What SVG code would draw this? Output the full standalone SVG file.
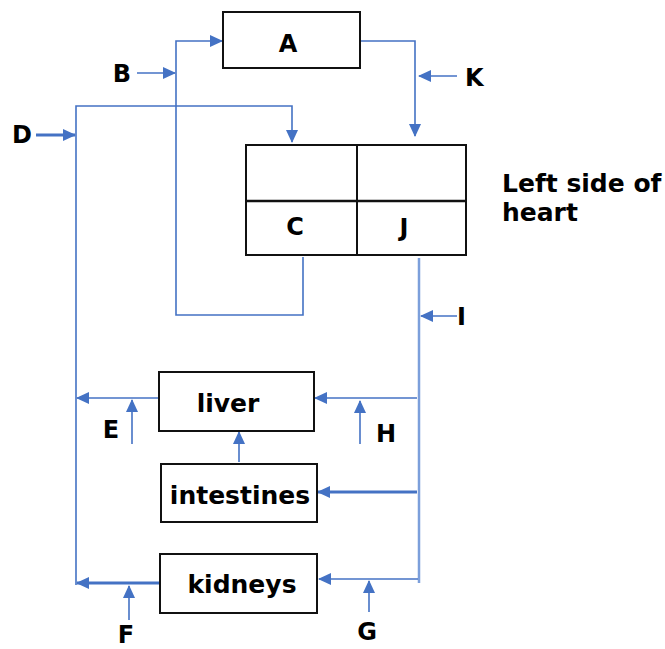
<svg xmlns="http://www.w3.org/2000/svg" width="665" height="649" viewBox="0 0 665 649">
<style>
.box{fill:#fff;stroke:#111;stroke-width:2}
.c{fill:none;stroke:#4472C4;stroke-width:1.6}
.t{stroke-width:3}
.lbl{font-family:"DejaVu Sans",Verdana,sans-serif;font-weight:bold;font-size:24px;fill:#000}
.big{font-size:25px}
.m{text-anchor:middle}
</style>
<defs>
<marker id="ah" markerUnits="userSpaceOnUse" markerWidth="13" markerHeight="12" refX="12" refY="6" orient="auto">
<path d="M0,0 L13,6 L0,12 z" fill="#4472C4"/>
</marker>
</defs>
<rect width="665" height="649" fill="#fff"/>
<g id="connectors">
<path class="c" d="M360,41 H415 V136" marker-end="url(#ah)"/>
<path class="c" d="M457,76 H419" marker-end="url(#ah)"/>
<path class="c" d="M137,73 H175" marker-end="url(#ah)"/>
<path class="c" d="M303,257 V315 H176 V41 H222" marker-end="url(#ah)"/>
<path class="c t" d="M36,135 H75" marker-end="url(#ah)"/>
<path class="c" d="M76,585 V106 H292 V142" marker-end="url(#ah)"/>
<path class="c" d="M419,258 V583" style="stroke-width:2.5;stroke:#7C9FDB"/>
<path class="c" d="M457,316 H421" marker-end="url(#ah)"/>
<path class="c" d="M159,398 H77" marker-end="url(#ah)"/>
<path class="c" d="M132,444 V400" marker-end="url(#ah)"/>
<path class="c" d="M417,398 H315" marker-end="url(#ah)"/>
<path class="c" d="M360,444 V401" marker-end="url(#ah)"/>
<path class="c" d="M239,462 V432" marker-end="url(#ah)"/>
<path class="c t" d="M417,492 H318" marker-end="url(#ah)"/>
<path class="c t" d="M160,583 H77" marker-end="url(#ah)"/>
<path class="c" d="M129,620 V586" marker-end="url(#ah)"/>
<path class="c" d="M418,579 H319" marker-end="url(#ah)"/>
<path class="c" d="M369,612 V581" marker-end="url(#ah)"/>
</g>
<g id="A">
<rect class="box" x="223" y="12" width="137" height="56"/>
<text class="lbl m" x="288" y="52">A</text>
</g>
<g id="heart">
<rect class="box" x="246" y="145" width="220" height="110"/>
<line x1="246" y1="201" x2="466" y2="201" stroke="#111" stroke-width="2.5"/>
<line x1="357" y1="145" x2="357" y2="255" stroke="#111" stroke-width="2"/>
<text class="lbl m" x="295" y="235">C</text>
<text class="lbl m" x="404" y="236">J</text>
<text class="lbl big" x="502" y="192">Left side of</text>
<text class="lbl big" x="502" y="221">heart</text>
</g>
<g id="liver">
<rect class="box" x="159" y="372" width="155" height="59"/>
<text class="lbl big m" x="228" y="412">liver</text>
</g>
<g id="intestines">
<rect class="box" x="161" y="464" width="156" height="58"/>
<text class="lbl big m" x="240" y="504">intestines</text>
</g>
<g id="kidneys">
<rect class="box" x="160" y="554" width="157" height="59"/>
<text class="lbl big m" x="242" y="593">kidneys</text>
</g>
<g id="labels">
<text class="lbl m" x="122" y="82">B</text>
<text class="lbl" x="465" y="86">K</text>
<text class="lbl m" x="22" y="143">D</text>
<text class="lbl" x="457" y="325">I</text>
<text class="lbl m" x="111" y="438">E</text>
<text class="lbl m" x="386" y="442">H</text>
<text class="lbl m" x="126" y="643">F</text>
<text class="lbl m" x="367" y="640">G</text>
</g>
</svg>
